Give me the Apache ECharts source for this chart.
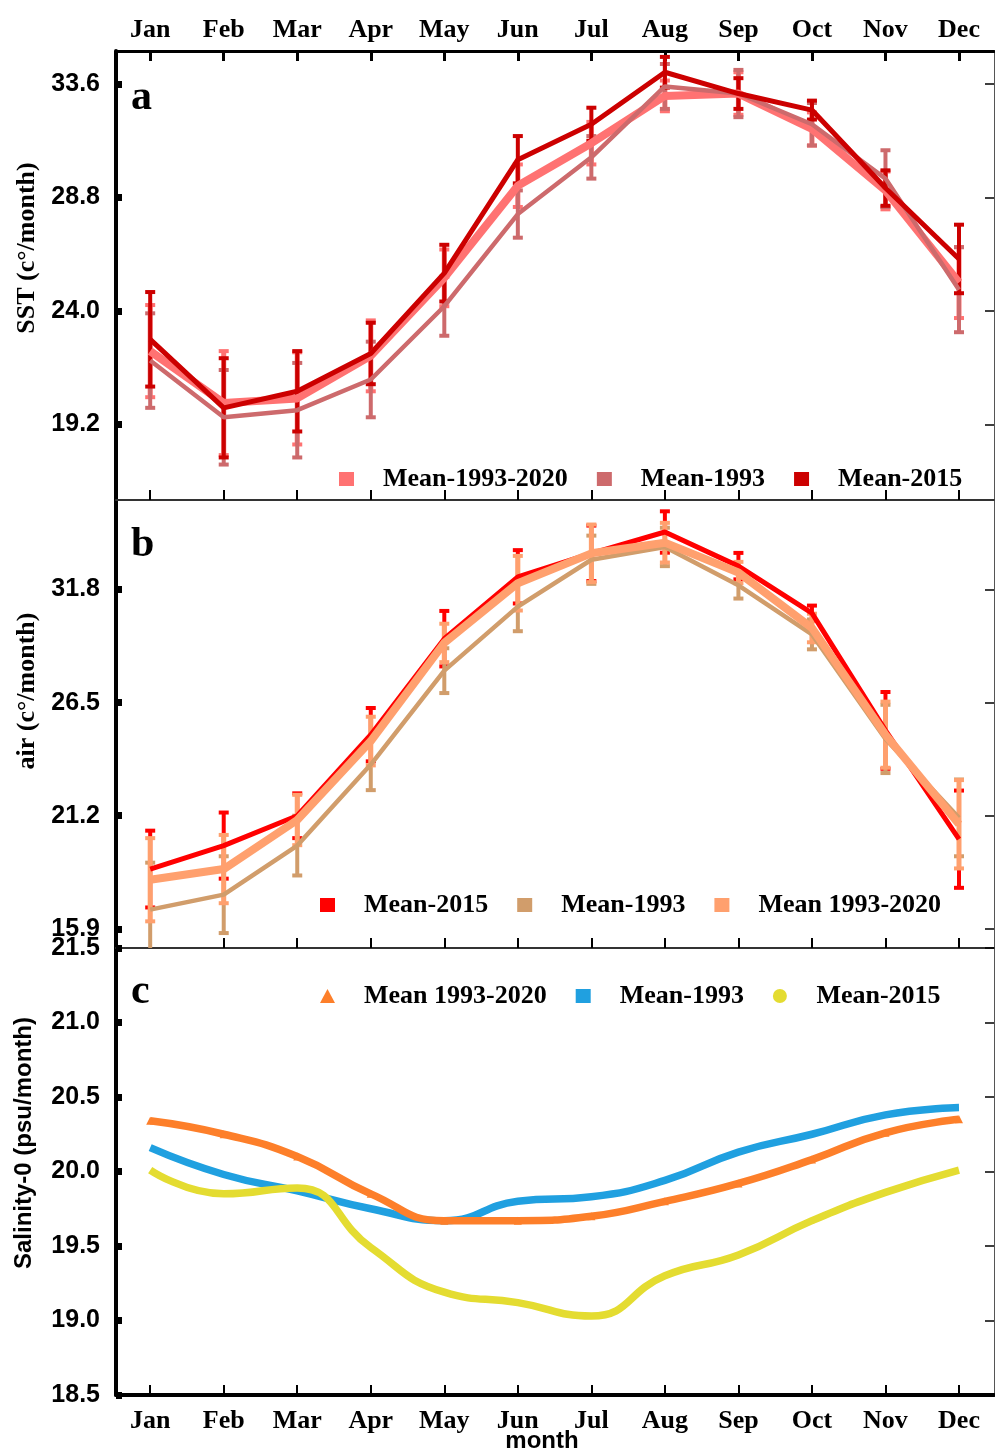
<!DOCTYPE html>
<html>
<head>
<meta charset="utf-8">
<script src="https://cdn.jsdelivr.net/npm/echarts@6/dist/echarts.min.js"></script>
<style>
  html, body { margin: 0; padding: 0; background: #fff; }
  #container { width: 995px; height: 1453px; }
</style>
</head>
<body>
<div id="container"></div>
<script>
var months = ['Jan', 'Feb', 'Mar', 'Apr', 'May', 'Jun', 'Jul', 'Aug', 'Sep', 'Oct', 'Nov', 'Dec'];

// panel a: SST
var sstMean = [22.3, 20.1, 20.3, 22.1, 25.4, 29.3, 31.1, 33.1, 33.2, 31.7, 29.1, 25.2];
var sstMeanErr = [1.95, 2.2, 1.95, 1.5, 1.2, 0.9, 0.9, 0.65, 0.9, 0.7, 0.8, 1.5];
var sst1993 = [21.9, 19.5, 19.8, 21.1, 24.2, 28.1, 30.5, 33.5, 33.2, 31.9, 29.6, 24.9];
var sst1993Err = [2.0, 2.0, 2.0, 1.6, 1.25, 1.0, 0.9, 0.95, 1.0, 0.9, 1.2, 1.8];
var sst2015 = [22.8, 19.9, 20.6, 22.2, 25.6, 30.4, 31.9, 34.1, 33.2, 32.5, 29.2, 26.2];
var sst2015Err = [2.0, 2.1, 1.7, 1.3, 1.2, 1.0, 0.7, 0.65, 0.65, 0.4, 0.75, 1.45];
var sstTicks = [19.2, 24.0, 28.8, 33.6];

// panel b: air
var air2015 = [18.7, 19.8, 21.2, 25.0, 29.5, 32.4, 33.5, 34.5, 32.9, 30.7, 25.2, 20.1];
var air2015Err = [1.8, 1.55, 1.05, 1.25, 1.3, 1.25, 1.3, 0.97, 0.62, 0.35, 1.8, 2.28];
var air1993 = [16.8, 17.5, 19.8, 23.6, 28.0, 31.0, 33.2, 33.8, 32.0, 29.7, 24.8, 21.1];
var air1993Err = [2.2, 1.8, 1.4, 1.2, 1.05, 1.15, 1.13, 0.9, 0.62, 0.7, 1.6, 1.8];
var airMean = [18.2, 18.7, 21.0, 24.7, 29.3, 32.1, 33.5, 34.0, 32.6, 30.0, 25.0, 20.8];
var airMeanErr = [1.95, 1.6, 1.18, 1.14, 0.9, 1.28, 1.35, 0.93, 0.5, 0.67, 1.55, 2.07];
var airTicks = [15.9, 21.2, 26.5, 31.8];

// panel c: salinity
var salMean = [20.34, 20.25, 20.10, 19.85, 19.67, 19.67, 19.70, 19.80, 19.92, 20.08, 20.26, 20.35];
var sal1993 = [20.16, 19.98, 19.87, 19.75, 19.67, 19.80, 19.83, 19.94, 20.13, 20.25, 20.38, 20.43];
var sal2015 = [20.01, 19.85, 19.89, 19.49, 19.19, 19.12, 19.03, 19.30, 19.44, 19.67, 19.86, 20.01];

var SERIF = '"Liberation Serif", "Times New Roman", serif';
var SANS = '"Liberation Sans", Arial, sans-serif';
var monthPos = months.map(function (m, i) { return i + 1; });

function pts(arr) {
	return arr.map(function (v, i) { return [i + 1, v]; });
}
function errPts(arr, err) {
	return arr.map(function (v, i) { return [i + 1, v - err[i], v + err[i]]; });
}

function lineSeries(name, data, color, width, axis, smooth) {
	return {
		name: name, type: 'line', data: pts(data),
		xAxisIndex: axis.x, yAxisIndex: axis.y,
		color: color, showSymbol: false, smooth: smooth || false,
		lineStyle: { color: color, width: width }
	};
}

function errSeries(arr, err, color, width, axis) {
	return {
		type: 'custom', data: errPts(arr, err),
		xAxisIndex: axis.x, yAxisIndex: axis.y, clip: true,
		encode: { x: 0, y: [1, 2] },
		renderItem: function (params, api) {
			var lo = api.coord([api.value(0), api.value(1)]);
			var hi = api.coord([api.value(0), api.value(2)]);
			var hw = 5;
			return {
				type: 'group',
				children: [
					{ type: 'line', shape: { x1: lo[0], y1: lo[1], x2: hi[0], y2: hi[1] }, style: { stroke: color, lineWidth: width } },
					{ type: 'line', shape: { x1: lo[0] - hw, y1: lo[1], x2: lo[0] + hw, y2: lo[1] }, style: { stroke: color, lineWidth: 4 } },
					{ type: 'line', shape: { x1: hi[0] - hw, y1: hi[1], x2: hi[0] + hw, y2: hi[1] }, style: { stroke: color, lineWidth: 4 } }
				]
			};
		}
	};
}

function xAxisFor(grid, pos, showLabel, lineWidth, lineColor, tickW, margin) {
	return {
		type: 'value', gridIndex: grid, position: pos,
		min: 0.535, max: 12.476,
		splitLine: { show: false },
		axisLine: { show: true, lineStyle: { color: lineColor, width: lineWidth } },
		axisTick: { show: true, inside: true, length: 10, customValues: monthPos, lineStyle: { color: '#000', width: tickW } },
		axisLabel: {
			show: showLabel, customValues: monthPos, margin: margin || 10,
			fontFamily: SERIF, fontSize: 26, fontWeight: 'bold', color: '#000',
			formatter: function (v) { return months[Math.round(v) - 1]; }
		}
	};
}

function yAxesFor(grid, min, max, ticks, interval) {
	var left = {
		type: 'value', gridIndex: grid, position: 'left', min: min, max: max,
		splitLine: { show: false },
		axisLine: { show: true, lineStyle: { color: '#000', width: 4 } },
		axisTick: { show: true, inside: true, length: 6, lineStyle: { color: '#000', width: 7 } },
		axisLabel: {
			show: true, margin: 16, fontFamily: SANS, fontSize: 25, fontWeight: 'bold', color: '#000',
			formatter: function (v) { return v.toFixed(1); }
		}
	};
	var right = {
		type: 'value', gridIndex: grid, position: 'right', min: min, max: max,
		splitLine: { show: false },
		axisLine: { show: true, lineStyle: { color: '#555', width: 1 } },
		axisTick: { show: true, inside: true, length: 9, lineStyle: { color: '#000', width: 1.5 } },
		axisLabel: { show: false }
	};
	if (ticks) {
		left.axisTick.customValues = ticks;
		left.axisLabel.customValues = ticks;
		right.axisTick.customValues = ticks;
	} else {
		left.interval = interval;
		right.interval = interval;
	}
	return [left, right];
}

function legendFor(left, top, items) {
	return {
		left: left, top: top, orient: 'horizontal', padding: 0,
		itemWidth: 15, itemHeight: 14, itemGap: 29,
		selectedMode: false,
		itemStyle: { borderWidth: 0 },
		data: items,
		formatter: function (name) { return '{g| }' + name.split('#')[0]; },
		textStyle: {
			fontFamily: SERIF, fontSize: 26, fontWeight: 'bold', color: '#000',
			rich: { g: { width: 24 } }
		}
	};
}

var axA = { x: 1, y: 0 }, axB = { x: 2, y: 2 }, axC = { x: 3, y: 4 };

var c9320a = '#ff7272', c1993a = '#cd6a6c', c2015a = '#cc0000';
var c2015b = '#ff0000', c1993b = '#d19d6b', c9320b = '#ffa06e';
var c9320c = '#fd7f2a', c1993c = '#20a0e0', c2015c = '#e4dc31';

var myChart = echarts.init(document.getElementById('container'));

var option = {
	animation: false,
	backgroundColor: '#fff',
	grid: [
		{ left: 116, right: 1, top: 51, height: 449 },
		{ left: 116, right: 1, top: 500, height: 448 },
		{ left: 116, right: 1, top: 948, height: 447 }
	],
	xAxis: [
		xAxisFor(0, 'top', true, 3, '#000', 3, 8),
		xAxisFor(0, 'bottom', false, 2, '#333', 2),
		xAxisFor(1, 'bottom', false, 2, '#333', 2),
		xAxisFor(2, 'bottom', true, 4, '#000', 2, 13)
	],
	yAxis: [].concat(
		yAxesFor(0, 16, 35, sstTicks),
		yAxesFor(1, 15, 36, airTicks),
		yAxesFor(2, 18.5, 21.5, null, 0.5)
	),
	legend: [
		legendFor(339, 466, [
			{ name: 'Mean-1993-2020#a', icon: 'rect' },
			{ name: 'Mean-1993#a', icon: 'rect' },
			{ name: 'Mean-2015#a', icon: 'rect' }
		]),
		legendFor(320, 892, [
			{ name: 'Mean-2015#b', icon: 'rect' },
			{ name: 'Mean-1993#b', icon: 'rect' },
			{ name: 'Mean 1993-2020#b', icon: 'rect' }
		]),
		legendFor(320, 983, [
			{ name: 'Mean 1993-2020#c', icon: 'triangle' },
			{ name: 'Mean-1993#c', icon: 'rect' },
			{ name: 'Mean-2015#c', icon: 'circle' }
		])
	],
	graphic: [
		{ type: 'text', x: 27, y: 248, rotation: Math.PI / 2, style: { text: 'SST (c°/month)', fontFamily: SERIF, fontSize: 26, fontWeight: 'bold', fill: '#000', align: 'center', verticalAlign: 'middle' } },
		{ type: 'text', x: 27, y: 691, rotation: Math.PI / 2, style: { text: 'air (c°/month)', fontFamily: SERIF, fontSize: 26, fontWeight: 'bold', fill: '#000', align: 'center', verticalAlign: 'middle' } },
		{ type: 'text', x: 24, y: 1143, rotation: Math.PI / 2, style: { text: 'Salinity-0 (psu/month)', fontFamily: SANS, fontSize: 24, fontWeight: 'bold', fill: '#000', align: 'center', verticalAlign: 'middle' } },
		{ type: 'text', x: 131, y: 119, style: { text: 'a', fontFamily: SERIF, fontSize: 42, fontWeight: 'bold', fill: '#000', verticalAlign: 'bottom' } },
		{ type: 'text', x: 131, y: 566, style: { text: 'b', fontFamily: SERIF, fontSize: 42, fontWeight: 'bold', fill: '#000', verticalAlign: 'bottom' } },
		{ type: 'text', x: 131, y: 1013, style: { text: 'c', fontFamily: SERIF, fontSize: 42, fontWeight: 'bold', fill: '#000', verticalAlign: 'bottom' } },
		{ type: 'text', x: 542, y: 1441, style: { text: 'month', fontFamily: SANS, fontSize: 24, fontWeight: 'bold', fill: '#000', align: 'center', verticalAlign: 'middle' } }
	],
	series: [
		// a
		errSeries(sstMean, sstMeanErr, c9320a, 5, axA),
		lineSeries('Mean-1993-2020#a', sstMean, c9320a, 8, axA),
		errSeries(sst1993, sst1993Err, c1993a, 4, axA),
		lineSeries('Mean-1993#a', sst1993, c1993a, 4.5, axA),
		errSeries(sst2015, sst2015Err, c2015a, 4, axA),
		lineSeries('Mean-2015#a', sst2015, c2015a, 5, axA),
		// b
		errSeries(air2015, air2015Err, c2015b, 4, axB),
		lineSeries('Mean-2015#b', air2015, c2015b, 5, axB),
		errSeries(air1993, air1993Err, c1993b, 4, axB),
		lineSeries('Mean-1993#b', air1993, c1993b, 4.5, axB),
		errSeries(airMean, airMeanErr, c9320b, 5, axB),
		lineSeries('Mean 1993-2020#b', airMean, c9320b, 8, axB),
		// c
		lineSeries('Mean-1993#c', sal1993, c1993c, 7.5, axC, 0.5),
		lineSeries('Mean-2015#c', sal2015, c2015c, 7.5, axC, 0.5),
		(function () {
			var s = lineSeries('Mean 1993-2020#c', salMean, c9320c, 7.5, axC, 0.5);
			s.showSymbol = true;
			s.symbol = 'triangle';
			s.symbolSize = 8;
			s.itemStyle = { color: c9320c };
			return s;
		})()
	]
};

myChart.setOption(option);
</script>
</body>
</html>
